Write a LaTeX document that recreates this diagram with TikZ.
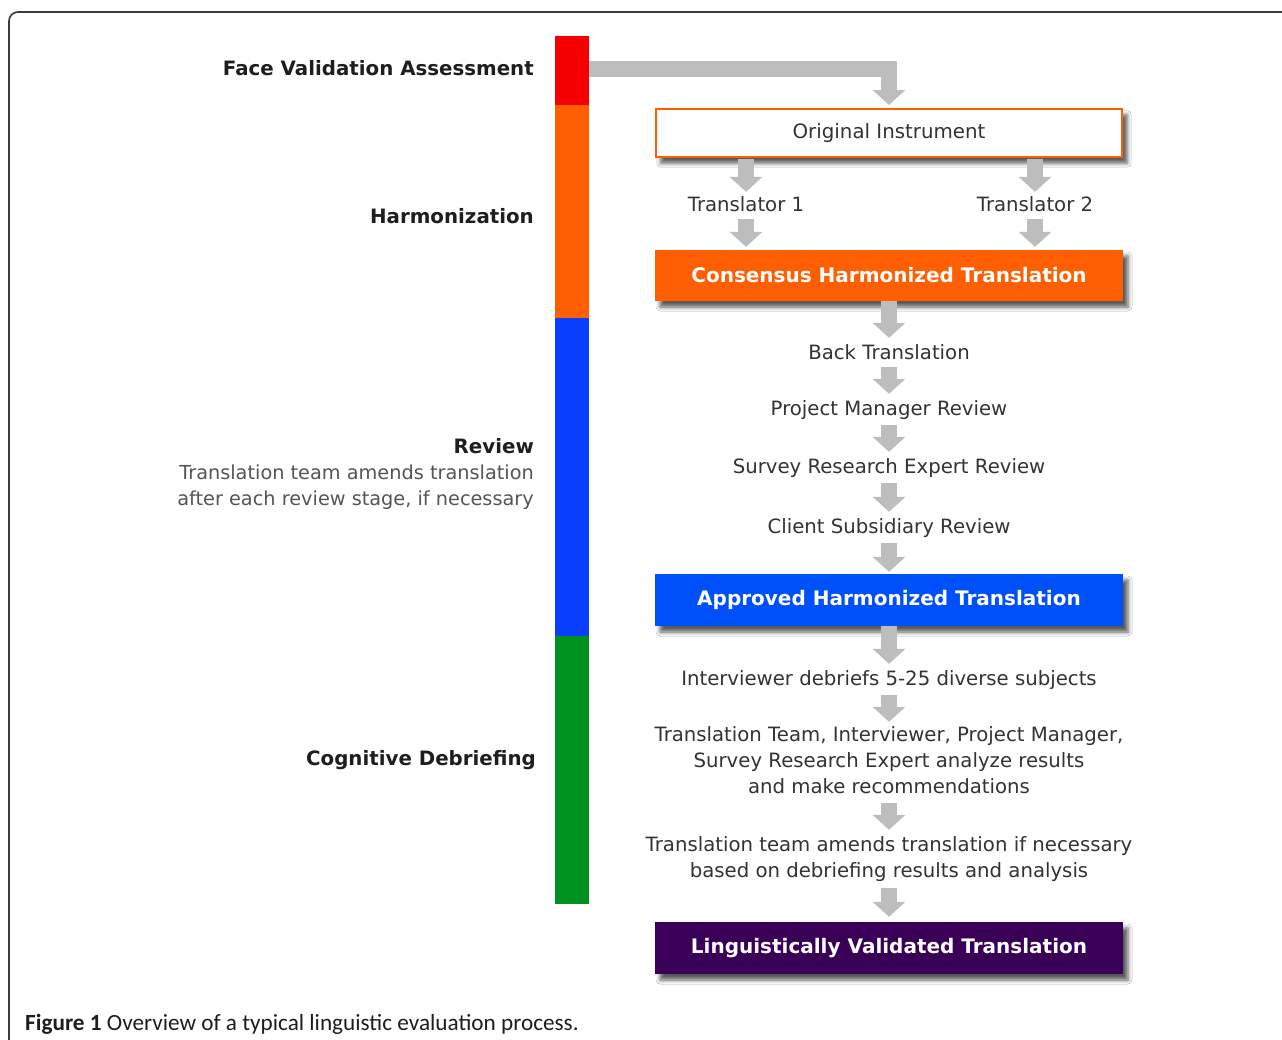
\documentclass[tikz,border=0pt]{standalone}
\usepackage{fontspec}
\setmainfont{DejaVu Sans}
\newfontfamily\capfont{Carlito}
\usetikzlibrary{arrows.meta,shadows.blur}
\definecolor{cRed}{HTML}{F50000}
\definecolor{cOrange}{HTML}{FF5F00}
\definecolor{cBlueBar}{HTML}{0A3EFF}
\definecolor{cBlueBox}{HTML}{0050FA}
\definecolor{cGreen}{HTML}{00921E}
\definecolor{cPurple}{HTML}{3A0057}
\definecolor{cArrow}{HTML}{BDBDBD}
\definecolor{cText}{HTML}{333333}
\definecolor{cLabel}{HTML}{1E1E1E}
\definecolor{cSub}{HTML}{555555}
\definecolor{cFrame}{HTML}{3A3A3A}
\newcommand\mystrutA{\rule[-5pt]{0pt}{19pt}}
\tikzset{
  x=1pt, y=-1pt,
  barseg/.style={inner sep=0, minimum width=34pt, draw=none},
  stepbox/.style={inner sep=0, minimum width=468pt, minimum height=51pt,
    font=\fontsize{20}{26}\selectfont\bfseries, text=white,
    blur shadow={shadow xshift=5pt, shadow yshift=-6pt, shadow blur radius=4pt, shadow opacity=65}},
  steptext/.style={inner sep=0, align=center, text=cText,
    font=\fontsize{19.7}{26}\selectfont,
    execute at begin node=\mystrutA, execute at end node=\mystrutA},
  sidelabel/.style={inner sep=0, anchor=east, align=right, text=cLabel,
    font=\fontsize{19.8}{26}\selectfont\bfseries},
  garrow/.style={draw=cArrow, line width=16pt,
    -{Triangle[width=32pt, length=15pt]}},
}
\begin{document}
\begin{tikzpicture}
\useasboundingbox (0,0) rectangle (1282,1039);
\clip (0,0) rectangle (1282,1039);
\fill[white] (0,0) rectangle (1282,1039);
\draw[cFrame, line width=1.6pt, rounded corners=9pt] (9,12) rectangle (1320,1080);

% colour bar
\node[barseg, fill=cRed, minimum height=69pt] (barR) at (572,70.5) {};
\node[barseg, fill=cOrange, minimum height=213pt] (barO) at (572,211.5) {};
\node[barseg, fill=cBlueBar, minimum height=318pt] (barB) at (572,477) {};
\node[barseg, fill=cGreen, minimum height=268pt] (barG) at (572,770) {};

% side labels
\node[sidelabel] (lFVA) at (534,68) {Face Validation Assessment};
\node[sidelabel] (lHar) at (534,216) {Harmonization};
\node[sidelabel] (lRev) at (534,474) {Review\\ {\fontsize{19.3}{26}\selectfont\mdseries\color{cSub}Translation team amends translation}\\ {\fontsize{19.3}{26}\selectfont\mdseries\color{cSub}after each review stage, if necessary}};
\node[sidelabel] (lCog) at (536,760) {Cognitive Debriefing};

% boxes
\node[stepbox, fill=white, draw=cOrange, line width=1.6pt, text=cText, minimum width=466.4pt, minimum height=48.4pt, font=\fontsize{19.8}{26}\selectfont] (oi) at (889,133) {Original Instrument};
\node[stepbox, fill=cOrange] (cht) at (889,275.5) {Consensus Harmonized Translation};
\node[stepbox, fill=cBlueBox, minimum height=52pt] (aht) at (889,600) {Approved Harmonized Translation};
\node[stepbox, fill=cPurple, minimum height=52pt] (lvt) at (889,948) {Linguistically Validated Translation};

% texts
\node[steptext] (t1) at (746,207) {Translator 1};
\node[steptext] (t2) at (1035,207) {Translator 2};
\node[steptext] (bt) at (889,355) {Back Translation};
\node[steptext] (pmr) at (889,411) {Project Manager Review};
\node[steptext] (sre) at (889,469) {Survey Research Expert Review};
\node[steptext] (csr) at (889,529) {Client Subsidiary Review};
\node[steptext] (idb) at (889,681) {Interviewer debriefs 5-25 diverse subjects};
\node[steptext] (tti) at (889,763) {Translation Team, Interviewer, Project Manager,\\Survey Research Expert analyze results\\and make recommendations};
\node[steptext] (tta) at (889,860) {Translation team amends translation if necessary\\based on debriefing results and analysis};

% caption
\node[inner sep=0, anchor=base west, font=\capfont\fontsize{23.2}{26}\selectfont, text=cLabel] (cap) at (25,1030) {\textbf{Figure 1} Overview of a typical linguistic evaluation process.};

% arrows
\draw[garrow, line join=miter, shorten >=3pt] (barR.east |- 0,69) -| (oi.north);
\draw[garrow, shorten <=1pt, shorten >=5pt] (oi.south -| t1) -- (t1.north);
\draw[garrow, shorten <=1pt, shorten >=5pt] (oi.south -| t2) -- (t2.north);
\draw[garrow, shorten <=1.5pt, shorten >=3pt] (t1.south) -- (cht.north -| t1);
\draw[garrow, shorten <=1.5pt, shorten >=3pt] (t2.south) -- (cht.north -| t2);
\draw[garrow, shorten >=7pt] (cht.south) -- (bt.north);
\draw[garrow, shorten <=1.5pt, shorten >=7pt] (bt.south) -- (pmr.north);
\draw[garrow, shorten <=3.5pt, shorten >=7pt] (pmr.south) -- (sre.north);
\draw[garrow, shorten <=3.5pt, shorten >=7pt] (sre.south) -- (csr.north);
\draw[garrow, shorten <=3.5pt, shorten >=2pt] (csr.south) -- (aht.north);
\draw[garrow, shorten >=7pt] (aht.south) -- (idb.north);
\draw[garrow, shorten <=3.5pt, shorten >=5pt] (idb.south) -- (tti.north);
\draw[garrow, shorten <=3.5pt, shorten >=7pt] (tti.south) -- (tta.north);
\draw[garrow, shorten <=4.5pt, shorten >=5pt] (tta.south) -- (lvt.north);
\end{tikzpicture}
\end{document}
